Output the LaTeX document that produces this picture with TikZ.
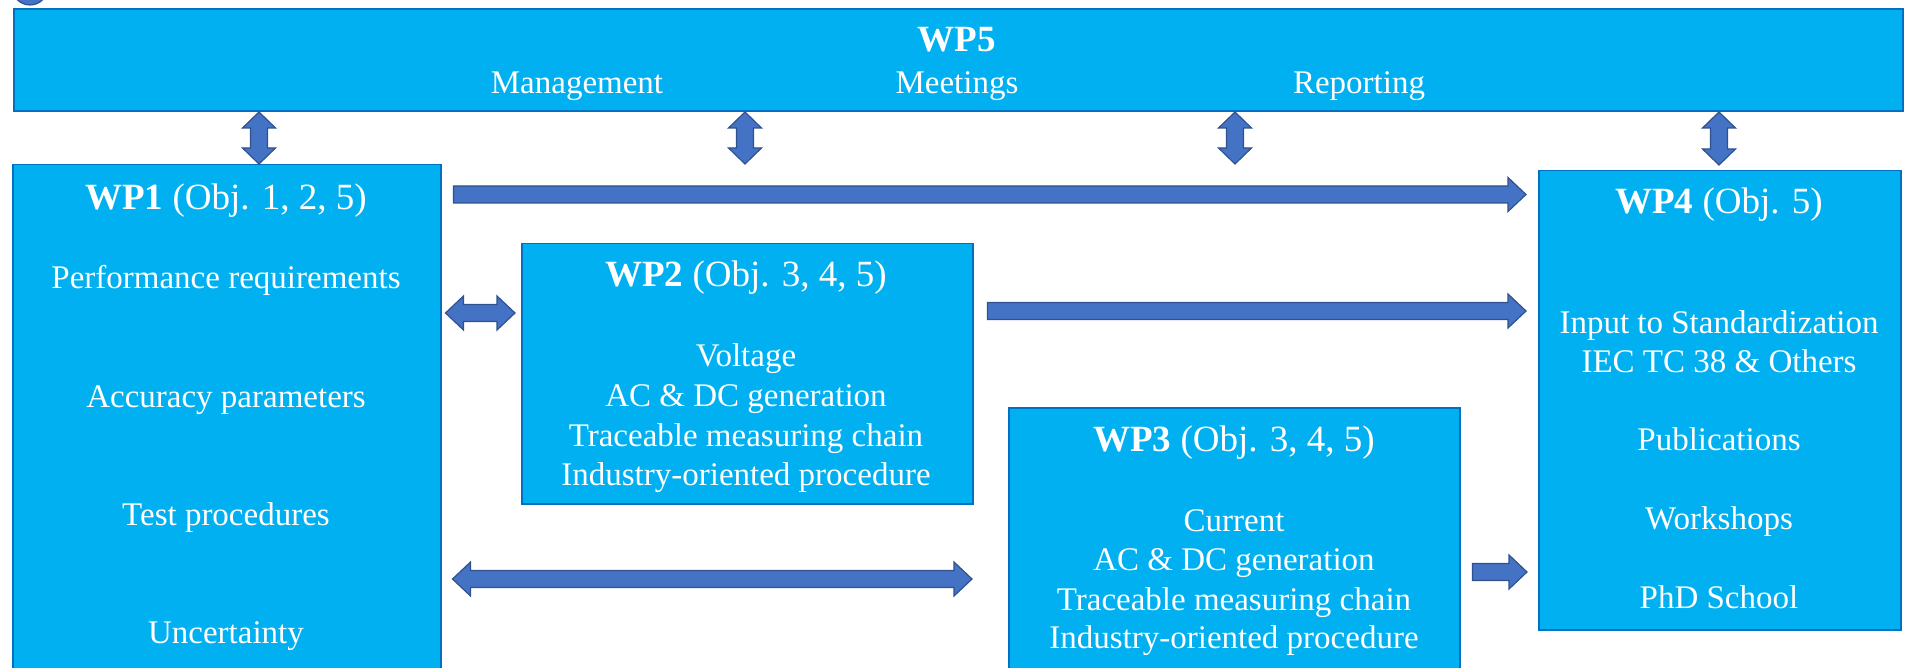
\documentclass[tikz,border=0pt]{standalone}
\usepackage{fontspec}
\setmainfont{Liberation Serif}
\usepackage{tikz}
\usetikzlibrary{calc,positioning}
\usepackage{xcolor}
\definecolor{wpfill}{HTML}{00B0F0}
\definecolor{wpline}{HTML}{0070C0}
\definecolor{arrfill}{HTML}{4472C4}
\definecolor{arrline}{HTML}{2F528F}
\tikzset{
  wpbox/.style={rectangle,draw=wpline,fill=wpfill,line width=1.5pt,inner sep=0pt,anchor=north west},
  wptext/.style={text=white,font=\fontsize{33}{40}\selectfont,inner sep=0pt,anchor=base},
  wphead/.style={text=white,font=\fontsize{37}{44}\selectfont,inner sep=0pt,anchor=base},
  blockarrow/.style={draw=arrline,fill=arrfill,line width=1.2pt,line join=miter},
}
% block arrows: #1 start, #2 end, #3 level
\newcommand{\rblock}[3]{%
  \draw[blockarrow] let \p1=#1, \p2=#2, \p3=(0,#3) in
    (\x1,\y3+8.5pt) -- (\x2-18pt,\y3+8.5pt) -- (\x2-18pt,\y3+17pt) -- (\x2,\y3)
    -- (\x2-18pt,\y3-17pt) -- (\x2-18pt,\y3-8.5pt) -- (\x1,\y3-8.5pt) -- cycle;}
\newcommand{\lrblock}[3]{%
  \draw[blockarrow] let \p1=#1, \p2=#2, \p3=(0,#3) in
    (\x1,\y3) -- (\x1+18pt,\y3+17pt) -- (\x1+18pt,\y3+8.5pt) -- (\x2-18pt,\y3+8.5pt)
    -- (\x2-18pt,\y3+17pt) -- (\x2,\y3) -- (\x2-18pt,\y3-17pt) -- (\x2-18pt,\y3-8.5pt)
    -- (\x1+18pt,\y3-8.5pt) -- (\x1+18pt,\y3-17pt) -- cycle;}
\newcommand{\udblock}[3]{%
  \draw[blockarrow] let \p1=#1, \p2=#2, \p3=(#3,0) in
    (\x3,\y1) -- (\x3-16.5pt,\y1-16pt) -- (\x3-8.5pt,\y1-16pt) -- (\x3-8.5pt,\y2+16pt)
    -- (\x3-16.5pt,\y2+16pt) -- (\x3,\y2) -- (\x3+16.5pt,\y2+16pt) -- (\x3+8.5pt,\y2+16pt)
    -- (\x3+8.5pt,\y1-16pt) -- (\x3+16.5pt,\y1-16pt) -- cycle;}

\begin{document}
\begin{tikzpicture}[x=1pt,y=-1pt]
  \useasboundingbox (0,0) rectangle (1906,668);
  \node[circle,draw=arrline,fill=arrfill,line width=1.2pt,minimum size=36pt,inner sep=0pt] (dot) at (30,-13) {};

  % boxes
  \node[wpbox,minimum width=1889pt,minimum height=102pt] (wp5) at (13,8.5) {};
  \node[wpbox,minimum width=428pt,minimum height=520pt] (wp1) at (12,164) {};
  \node[wpbox,minimum width=451pt,minimum height=260pt] (wp2) at (521,243) {};
  \node[wpbox,minimum width=451pt,minimum height=280pt] (wp3) at (1008,407) {};
  \node[wpbox,minimum width=362pt,minimum height=459pt] (wp4) at (1538,170) {};

  % WP5
  \node[wphead] (wp5title) at (957,52) {\textbf{WP5}};
  \foreach \x/\lab [count=\i] in {577/Management, 957/Meetings, 1359/Reporting}
    \node[wptext] (wp5item\i) at (\x,94) {\lab};

  % WP1
  \node[wphead] (wp1title) at (226,210) {\textbf{WP1} (Obj. 1, 2, 5)};
  \foreach \y/\lab [count=\i] in {289/Performance requirements, 407/Accuracy parameters, 525/Test procedures, 643/Uncertainty}
    \node[wptext] (wp1item\i) at (226,\y) {\lab};

  % WP2
  \node[wphead] (wp2title) at (746,287) {\textbf{WP2} (Obj. 3, 4, 5)};
  \foreach \y/\lab [count=\i] in {366/Voltage, 406/AC \& DC generation, 446/Traceable measuring chain, 485/Industry-oriented procedure}
    \node[wptext] (wp2item\i) at (746,\y) {\lab};

  % WP3
  \node[wphead] (wp3title) at (1234,451) {\textbf{WP3} (Obj. 3, 4, 5)};
  \foreach \y/\lab [count=\i] in {531/Current, 570/AC \& DC generation, 610/Traceable measuring chain, 648/Industry-oriented procedure}
    \node[wptext] (wp3item\i) at (1234,\y) {\lab};

  % WP4
  \node[wphead] (wp4title) at (1719,214) {\textbf{WP4} (Obj. 5)};
  \foreach \y/\lab [count=\i] in {334/Input to Standardization, 372/IEC TC 38 \& Others, 450/Publications, 529/Workshops, 608/PhD School}
    \node[wptext] (wp4item\i) at (1719,\y) {\lab};

  % arrows
  \udblock{(wp5.south)}{(wp1.north)}{259}
  \udblock{(wp5.south)}{(wp1.north)}{745}
  \udblock{(wp5.south)}{(wp1.north)}{1235}
  \udblock{(wp5.south)}{([yshift=5pt]wp4.north)}{1719}
  \rblock{([xshift=12pt]wp1.east)}{([xshift=-12pt]wp4.west)}{194.5}
  \rblock{([xshift=14pt]wp2.east)}{([xshift=-12pt]wp4.west)}{311}
  \rblock{([xshift=12pt]wp3.east)}{([xshift=-11pt]wp4.west)}{572}
  \lrblock{([xshift=4pt]wp1.east)}{([xshift=-6pt]wp2.west)}{313}
  \lrblock{([xshift=11pt]wp1.east)}{([xshift=-36pt]wp3.west)}{579}
\end{tikzpicture}
\end{document}
